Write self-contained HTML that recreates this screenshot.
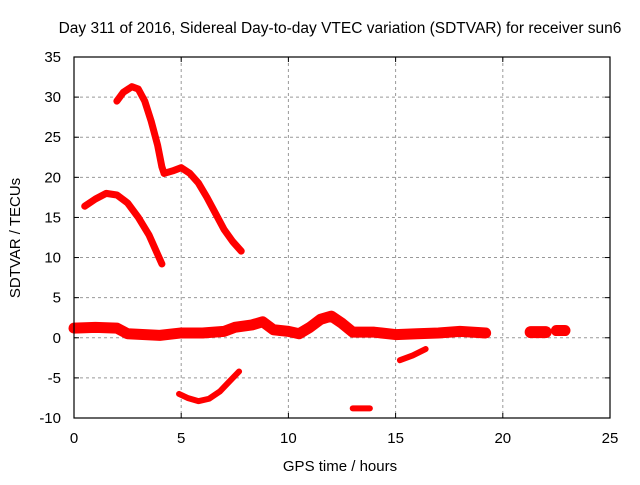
<!DOCTYPE html>
<html><head><meta charset="utf-8"><style>
body{margin:0;background:#fff}
text{font-family:"Liberation Sans",sans-serif;font-size:15px;fill:#000}
</style></head><body>
<svg id="c" width="640" height="480">
<text x="340" y="33" text-anchor="middle" style="font-size:15.5px">Day 311 of 2016, Sidereal Day-to-day VTEC variation (SDTVAR) for receiver sun6</text>
<text x="340" y="471" text-anchor="middle">GPS time / hours</text>
<text x="20" y="238" text-anchor="middle" transform="rotate(-90 20 238)">SDTVAR / TECUs</text>
<g id="grid"></g><g id="series"></g>
<rect x="74" y="57" width="536" height="361" fill="none" stroke="#000" stroke-width="1.2"/>
</svg>
<script>
const xTicks=[0,5,10,15,20,25];
const yTicks=[-10,-5,0,5,10,15,20,25,30,35];
const segA=[[2.0,29.5],[2.3,30.6],[2.7,31.3],[3.0,31],[3.3,29.5],[3.6,27],[3.9,24],[4.1,21.3],[4.2,20.5]];
const segB=[[4.2,20.5],[4.6,20.8],[5.0,21.2],[5.4,20.5],[5.8,19.3],[6.2,17.5],[6.6,15.5],[7.0,13.5],[7.4,12],[7.8,10.8]];
const segC=[[0.5,16.4],[1.0,17.3],[1.5,18],[2.0,17.8],[2.5,16.8],[3.0,15],[3.5,12.8],[4.1,9.2]];
const segD=[[4.9,-7],[5.3,-7.5],[5.8,-7.9],[6.3,-7.6],[6.8,-6.7],[7.3,-5.3],[7.7,-4.2]];
const segE=[[13.0,-8.8],[13.8,-8.8]];
const segF=[[15.2,-2.8],[15.8,-2.2],[16.4,-1.4]];
const band=[[0,1.2],[1,1.3],[2,1.2],[2.5,0.5],[4,0.3],[5,0.6],[6,0.6],[7,0.8],[7.5,1.3],[8.3,1.6],[8.8,2.0],[9.3,1.0],[10,0.8],[10.5,0.5],[11,1.3],[11.5,2.3],[12,2.7],[12.5,1.8],[13,0.7],[14,0.7],[15,0.4],[16,0.5],[17,0.6],[18,0.8],[19.2,0.6]];
const blob1=[[21.3,0.7],[22.0,0.7]];
const blob2=[[22.5,0.9],[22.9,0.9]];
const NS="http://www.w3.org/2000/svg";
const X=v=>74+v*(536/25), Y=v=>418-(v+10)*(361/45);
const g=document.getElementById('grid'), s=document.getElementById('series');
function mk(t,a,p){const e=document.createElementNS(NS,t);for(const k in a)e.setAttribute(k,a[k]);p.appendChild(e);return e;}
xTicks.forEach(t=>{
 if(t>0&&t<25){const l=mk('line',{x1:X(t),x2:X(t),y1:57,y2:418,stroke:'#999','stroke-dasharray':'3,3'},g);
 
 }
 const k=mk('line',{x1:X(t),x2:X(t),y1:418,y2:413,stroke:'#000'},g);
 
 
 const k2=mk('line',{x1:X(t),x2:X(t),y1:57,y2:62,stroke:'#000'},g);
 
 
 const tx=mk('text',{x:X(t),y:443,'text-anchor':'middle'},g);tx.textContent=t;
 
 
});
yTicks.forEach(t=>{
 if(t>-10&&t<35){const l=mk('line',{x1:74,x2:610,y1:Y(t),y2:Y(t),stroke:'#999','stroke-dasharray':'3,3'},g);
 
 }
 const k=mk('line',{x1:74,x2:79,y1:Y(t),y2:Y(t),stroke:'#000'},g);
 
 
 const k2=mk('line',{x1:605,x2:610,y1:Y(t),y2:Y(t),stroke:'#000'},g);
 
 
 const tx=mk('text',{x:61,y:Y(t)+5,'text-anchor':'end'},g);tx.textContent=t;
 
 
});
function draw(d,w,name){
 const p=mk('polyline',{points:d.map(q=>X(q[0])+','+Y(q[1])).join(' '),fill:'none',stroke:'#f00','stroke-width':w,'stroke-linejoin':'round','stroke-linecap':'round'},s);
 
 
}
draw(segA,7,'series-arc-a');draw(segB,7,'series-arc-b');draw(segC,7,'series-arc-c');
draw(segD,6,'series-arc-d');draw(segE,6,'series-arc-e');draw(segF,6,'series-arc-f');
draw(band,11,'series-zero-band');draw(blob1,12,'series-blob-1');draw(blob2,11,'series-blob-2');
</script>
</body></html>
